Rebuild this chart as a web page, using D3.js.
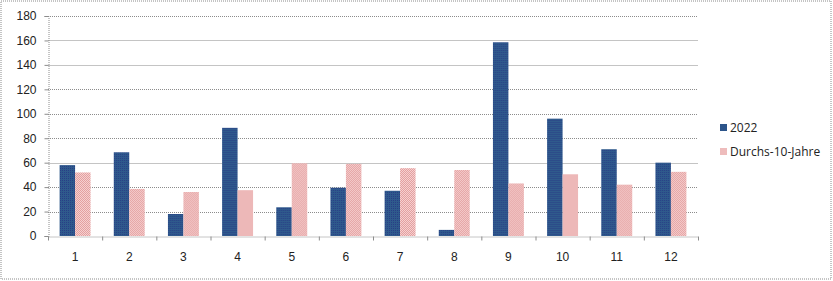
<!DOCTYPE html>
<html lang="de">
<head>
<meta charset="utf-8">
<title>Niederschlag 2022</title>
<script src="https://d3js.org/d3.v7.min.js"></script>
<style>
  body { margin: 0; background: #fff; }
  svg { display: block; font-family: "Open Sans", "Liberation Sans", sans-serif; }
</style>
</head>
<body>
<script>
const months = ["1","2","3","4","5","6","7","8","9","10","11","12"];
const values2022 = [58, 68.5, 18, 88.5, 23.5, 39.5, 37, 5, 158.5, 96, 71, 60];
const avg10 = [52, 38.5, 36, 37.5, 59.5, 59, 55.5, 54, 43, 50.5, 42, 52.5];
const seriesNames = ["2022", "Durchs-10-Jahre"];
const yTicks = [0, 20, 40, 60, 80, 100, 120, 140, 160, 180];

const W = 833, H = 281;
const plot = {left: 48, right: 698, top: 16, bottom: 236};

const svg = d3.select("body").append("svg").attr("width", W).attr("height", H);

// patterns for the Excel-like textured fills
const defs = svg.append("defs");
const pb = defs.append("pattern").attr("id", "pBlue").attr("width", 2).attr("height", 2)
  .attr("patternUnits", "userSpaceOnUse");
pb.append("rect").attr("width", 2).attr("height", 2).attr("fill", "#2f5a8c");
pb.append("rect").attr("width", 1).attr("height", 1).attr("fill", "#283f86");
const pp = defs.append("pattern").attr("id", "pPink").attr("width", 2).attr("height", 2)
  .attr("patternUnits", "userSpaceOnUse");
pp.append("rect").attr("width", 2).attr("height", 2).attr("fill", "#f6d0d0");
pp.append("rect").attr("width", 1).attr("height", 1).attr("fill", "#e3a0a0");
pp.append("rect").attr("x", 1).attr("y", 1).attr("width", 1).attr("height", 1).attr("fill", "#e3a0a0");

const fills = ["url(#pBlue)", "url(#pPink)"];
const legendFills = ["#2c548a", "#eebcbc"];

// outer frame
svg.append("rect").attr("x", 1).attr("y", 1).attr("width", W - 3).attr("height", H - 3)
  .attr("fill", "none").attr("stroke", "#8a8a8a").attr("stroke-dasharray", "1,1");

const x = d3.scaleBand().domain(months).range([plot.left, plot.right]).padding(0);
// gap width 150% -> each bar is 1/3.5 of the category, 0.75 bar of gap on each side
const x1 = d3.scaleBand().domain(seriesNames)
  .range([x.bandwidth() * 0.75 / 3.5, x.bandwidth() * 2.75 / 3.5]).padding(0);

const y = d3.scaleLinear().domain([0, 180]).range([plot.bottom, plot.top]);

// gridlines
const solidGrid = [60, 140, 160];
svg.append("g").selectAll("line").data(yTicks.filter(d => d > 0)).join("line")
  .attr("x1", plot.left).attr("x2", plot.right)
  .attr("y1", d => Math.round(y(d)) + 0.5).attr("y2", d => Math.round(y(d)) + 0.5)
  .attr("stroke", d => solidGrid.includes(d) ? "#c4c4c4" : "#8c8c8c")
  .attr("stroke-dasharray", d => solidGrid.includes(d) ? null : "1,1");

// bars
const data = months.map((m, i) => ({m, vals: [values2022[i], avg10[i]]}));
const groups = svg.append("g").selectAll("g").data(data).join("g")
  .attr("transform", d => `translate(${x(d.m)},0)`);
groups.selectAll("rect").data(d => d.vals.map((v, k) => ({k, v}))).join("rect")
  .attr("x", d => x1(seriesNames[d.k]))
  .attr("width", x1.bandwidth())
  .attr("y", d => y(d.v))
  .attr("height", d => y(0) - y(d.v))
  .attr("fill", d => fills[d.k]);

// y axis
const yAxis = d3.axisLeft(y).tickValues(yTicks).tickSize(4).tickPadding(8);
const gy = svg.append("g").attr("transform", `translate(${plot.left + 0.5},0)`).call(yAxis);
gy.select(".domain").attr("stroke", "#8c8c8c").attr("stroke-dasharray", "1,1");
gy.selectAll(".tick line").attr("stroke", "#8c8c8c");
gy.selectAll(".tick text").attr("font-size", 12).attr("fill", "#222");

// x axis
const xAxis = d3.axisBottom(x).tickSize(0).tickPadding(16);
const gx = svg.append("g").attr("transform", `translate(0,${plot.bottom + 0.5})`).call(xAxis);
gx.select(".domain").attr("stroke", "#8c8c8c").attr("stroke-dasharray", "1,1");
gx.selectAll(".tick text").attr("font-size", 12).attr("fill", "#222");
gx.selectAll("line.sep").data(d3.range(months.length + 1)).join("line").attr("class", "sep")
  .attr("x1", i => plot.left + i * x.bandwidth() + 0.5).attr("x2", i => plot.left + i * x.bandwidth() + 0.5)
  .attr("y1", 0).attr("y2", 4).attr("stroke", "#8c8c8c");

// legend
const lg = svg.append("g").attr("transform", "translate(720,124)");
const li = lg.selectAll("g").data(seriesNames).join("g")
  .attr("transform", (d, i) => `translate(0,${i * 24})`);
li.append("rect").attr("width", 7).attr("height", 7).attr("fill", (d, i) => legendFills[i]);
li.append("text").attr("x", 10).attr("y", 8).attr("font-size", 12).attr("fill", "#222").text(d => d);
</script>
</body>
</html>
